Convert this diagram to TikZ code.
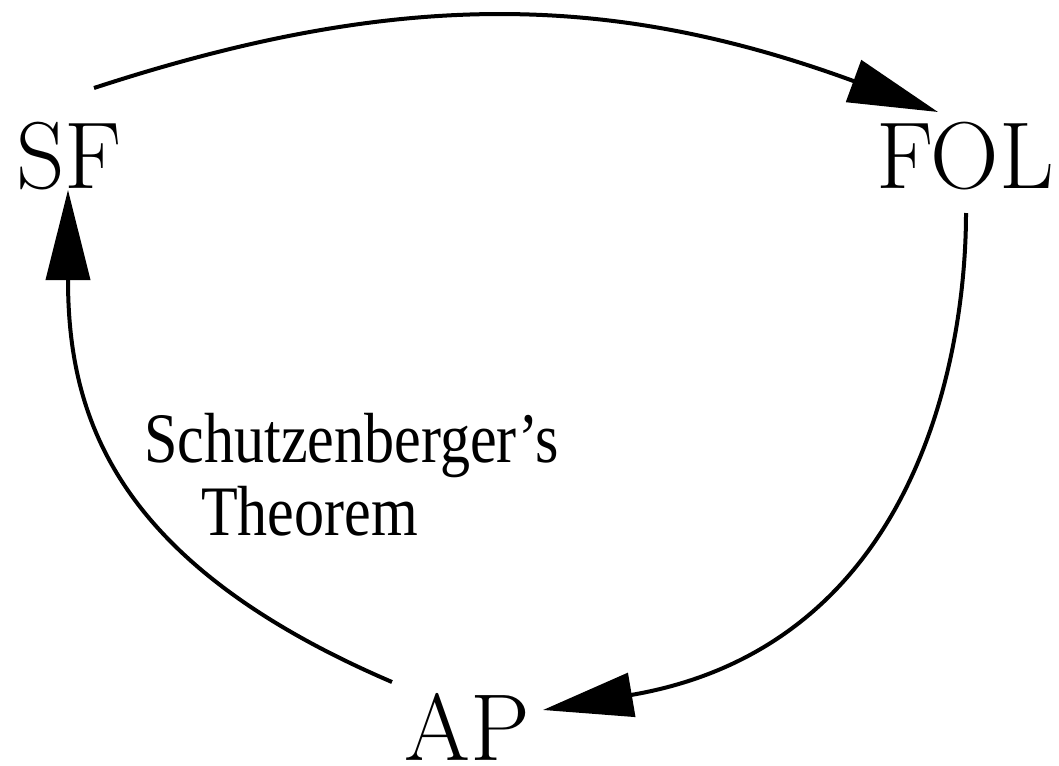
\documentclass[tikz,border=0pt]{standalone}
\usepackage{fontspec}
\newfontfamily\timesfont{Liberation Serif}
\usetikzlibrary{arrows.meta}
\tikzset{
  big/.style={inner sep=0pt, anchor=base, font=\fontsize{95}{100}\selectfont},
  lbl/.style={inner sep=0pt, anchor=base west, align=left, font=\timesfont\fontsize{71}{73}\selectfont},
  conn/.style={line width=4pt, -{Triangle[length=90pt,width=44pt]}}
}
\begin{document}
\begin{tikzpicture}[x=1pt,y=-1pt]
\useasboundingbox (0,0) rectangle (1059,765);
\node[big] (SF) at (69,188) {SF};
\node[big] (FOL) at (965,188) {FOL};
\node[big] (AP) at (467,760) {AP};
\node[lbl] (thm) at (144,535) {\scalebox{0.846}[1]{Schutzenberger’s}\\[0pt]\hspace*{57pt}\scalebox{0.846}[1]{Theorem}};
\coordinate (sfout) at (94,88);
\coordinate (folin) at (938,112);
\coordinate (folout) at (966,213);
\coordinate (apin) at (543,710);
\coordinate (apout) at (392,682);
\coordinate (sfin) at (68,190);
\draw[conn] (sfout) .. controls (394,-10) and (608,-9) .. (folin);
\draw[conn] (folout) .. controls (966,353) and (918,646) .. (apin);
\draw[conn] (apout) .. controls (112,562) and (68,414) .. (sfin);
\end{tikzpicture}
\end{document}
